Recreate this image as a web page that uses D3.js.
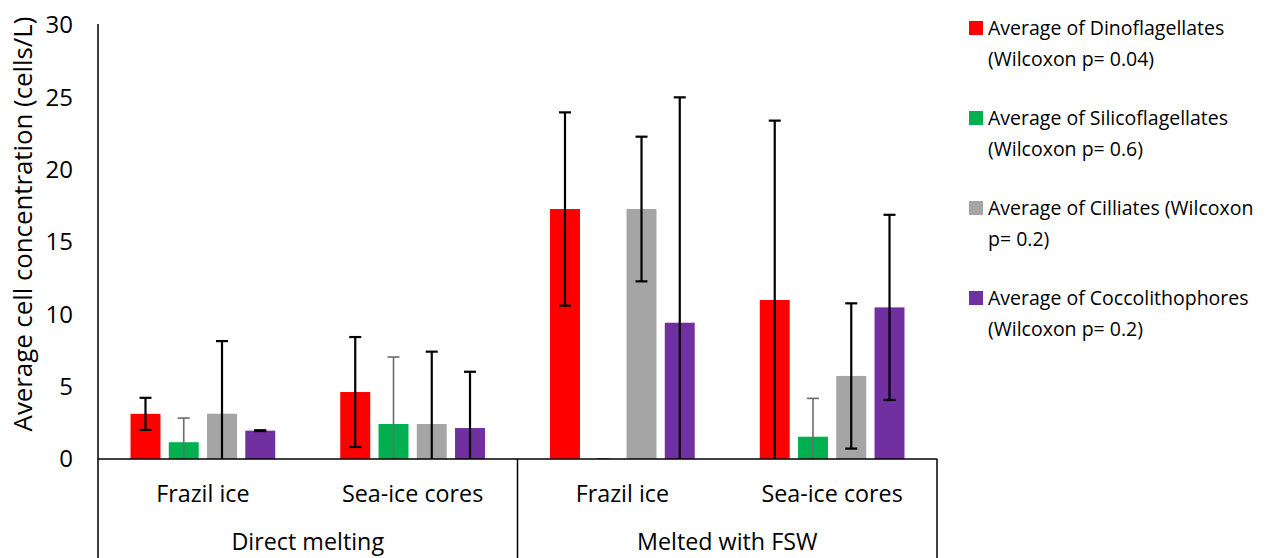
<!DOCTYPE html>
<html>
<head>
<meta charset="utf-8">
<script src="https://cdn.jsdelivr.net/npm/d3@7"></script>
<style>
  html, body { margin: 0; padding: 0; background: #fff; }
  svg { display: block; font-family: "Open Sans", sans-serif; }
</style>
</head>
<body>
<svg id="chart" width="1281" height="558"></svg>
<script>
// Sample groups: treatment (outer) and sample type (inner)
const treatments = ["Direct melting", "Melted with FSW"];
const sampleTypes = ["Frazil ice", "Sea-ice cores"];
const seriesNames = [
  "Average of Dinoflagellates (Wilcoxon p= 0.04)",
  "Average of Silicoflagellates (Wilcoxon p= 0.6)",
  "Average of Cilliates (Wilcoxon p= 0.2)",
  "Average of Coccolithophores (Wilcoxon p= 0.2)"
];
const legendLines = [
  ["Average of Dinoflagellates", "(Wilcoxon p= 0.04)"],
  ["Average of Silicoflagellates", "(Wilcoxon p= 0.6)"],
  ["Average of Cilliates (Wilcoxon", "p= 0.2)"],
  ["Average of Coccolithophores", "(Wilcoxon p= 0.2)"]
];
const colors = ["#FF0000", "#00B050", "#A5A5A5", "#7030A0"];
const errColors = ["#000000", "#6b6b6b", "#000000", "#000000"];

// Mean concentrations (cells/L), in category order:
// DM-Frazil, DM-Sea-ice, FSW-Frazil, FSW-Sea-ice
const dinoflagellates   = [3.12, 4.63, 17.28, 10.99];
const silicoflagellates = [1.16, 2.42, 0.00, 1.54];
const cilliates         = [3.13, 2.42, 17.28, 5.74];
const coccolithophores  = [1.96, 2.14, 9.42, 10.48];

// Error bar half-widths
const dinoflagellatesErr   = [1.11, 3.80, 6.68, 12.40];
const silicoflagellatesErr = [1.67, 4.63, 0.00, 2.65];
const cilliatesErr         = [5.02, 5.00, 5.00, 5.02];
const coccolithophoresErr  = [0.03, 3.89, 15.58, 6.40];

const yTicks = [0, 5, 10, 15, 20, 25, 30];

const values = [dinoflagellates, silicoflagellates, cilliates, coccolithophores];
const errors = [dinoflagellatesErr, silicoflagellatesErr, cilliatesErr, coccolithophoresErr];

const categories = [];
treatments.forEach(t => sampleTypes.forEach(s => categories.push(t + "|" + s)));

const svg = d3.select("#chart");
const plotLeft = 98, plotRight = 937, plotTop = 25, plotBottom = 459;

const y = d3.scaleLinear().domain([0, 30]).range([plotBottom, plotTop]);
const x0 = d3.scaleBand().domain(categories).range([plotLeft, plotRight]).padding(0);
const x1 = d3.scaleBand().domain(d3.range(4)).range([0, x0.bandwidth()])
  .paddingInner(0.217).paddingOuter(0.85);
const xOuter = d3.scaleBand().domain(treatments).range([plotLeft, plotRight]).padding(0);

svg.append("defs").append("clipPath").attr("id", "plotClip")
  .append("rect").attr("x", plotLeft).attr("y", 0)
  .attr("width", plotRight - plotLeft).attr("height", plotBottom);

// Bars
const plot = svg.append("g");
values.forEach((vals, si) => {
  plot.append("g").selectAll("rect").data(vals).join("rect")
    .attr("x", (d, i) => x0(categories[i]) + x1(si))
    .attr("width", x1.bandwidth())
    .attr("y", d => y(d))
    .attr("height", d => y(0) - y(d))
    .attr("fill", colors[si]);
});

// Error bars
const errG = svg.append("g").attr("clip-path", "url(#plotClip)");
values.forEach((vals, si) => {
  const g = errG.append("g")
    .attr("stroke", errColors[si])
    .attr("stroke-width", si === 1 ? 1.6 : 2.2);
  vals.forEach((v, i) => {
    const cx = x0(categories[i]) + x1(si) + x1.bandwidth() / 2;
    const e = errors[si][i];
    const hi = v + e, lo = v - e;
    g.append("line").attr("x1", cx).attr("x2", cx).attr("y1", y(hi)).attr("y2", y(lo));
    g.append("line").attr("x1", cx - 6).attr("x2", cx + 6).attr("y1", y(hi)).attr("y2", y(hi));
    g.append("line").attr("x1", cx - 6).attr("x2", cx + 6).attr("y1", y(lo)).attr("y2", y(lo));
  });
});

// Y axis
const yAxis = d3.axisLeft(y).tickValues(yTicks).tickSize(0).tickPadding(25);
const yg = svg.append("g").attr("transform", `translate(${plotLeft},0)`).call(yAxis);
yg.select(".domain").remove();
yg.selectAll("text").attr("font-size", 24).attr("fill", "#000")
  .attr("font-family", "'Open Sans', sans-serif");

const axisColor = "#000";
svg.append("line").attr("x1", plotLeft).attr("x2", plotLeft).attr("y1", plotTop - 1).attr("y2", 558)
  .attr("stroke", axisColor).attr("stroke-width", 1.5);
svg.append("line").attr("x1", plotLeft).attr("x2", plotRight).attr("y1", plotBottom).attr("y2", plotBottom)
  .attr("stroke", axisColor).attr("stroke-width", 1.5);

// Group separators below the axis
[xOuter(treatments[1]), plotRight].forEach(xv => {
  svg.append("line").attr("x1", xv).attr("x2", xv).attr("y1", plotBottom).attr("y2", 558)
    .attr("stroke", axisColor).attr("stroke-width", 1.5);
});

// Category labels
svg.append("g").selectAll("text").data(categories).join("text")
  .attr("x", d => x0(d) + x0.bandwidth() / 2)
  .attr("y", 502)
  .attr("text-anchor", "middle")
  .attr("font-size", 23.3)
  .text(d => d.split("|")[1]);

svg.append("g").selectAll("text").data(treatments).join("text")
  .attr("x", d => xOuter(d) + xOuter.bandwidth() / 2)
  .attr("y", 550)
  .attr("text-anchor", "middle")
  .attr("font-size", 23.3)
  .text(d => d);

// Y axis title
svg.append("text")
  .attr("transform", "translate(32,224) rotate(-90)")
  .attr("text-anchor", "middle")
  .attr("font-size", 25.8)
  .text("Average cell concentration (cells/L)");

// Legend
const legend = svg.append("g");
legendLines.forEach((lines, i) => {
  const gy = 28 + i * 90;
  legend.append("rect").attr("x", 969).attr("y", gy - 7).attr("width", 14).attr("height", 14)
    .attr("fill", colors[i]);
  lines.forEach((ln, k) => {
    legend.append("text")
      .attr("x", 988)
      .attr("y", gy + k * 31 + 7)
      .attr("font-size", 19.5)
      .text(ln);
  });
});
</script>
</body>
</html>
